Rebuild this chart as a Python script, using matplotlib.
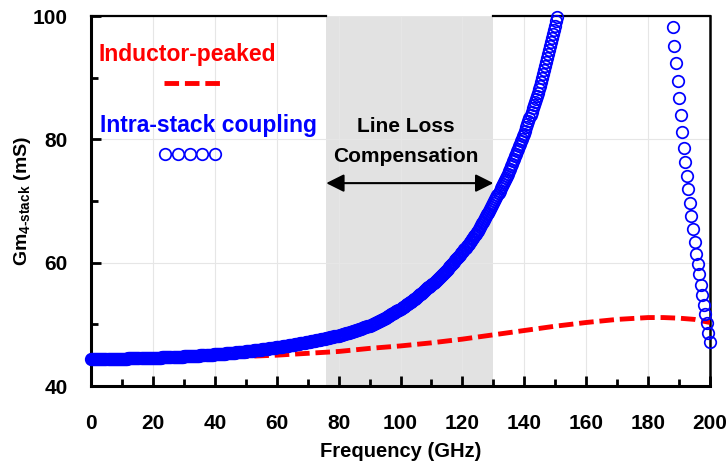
import matplotlib
matplotlib.use("Agg")
import matplotlib.pyplot as plt
import numpy as np

plt.rcParams['font.family'] = ['Liberation Sans', 'DejaVu Sans']
plt.rcParams['font.weight'] = 'bold'
plt.rcParams['axes.labelweight'] = 'bold'
plt.rcParams['mathtext.fontset'] = 'custom'
plt.rcParams['mathtext.rm'] = 'Liberation Sans:bold'
plt.rcParams['mathtext.bf'] = 'Liberation Sans:bold'

# intra-stack coupling, 0 .. 150.67 GHz in 1/3 GHz steps (one row = 5 GHz)
gm_coupling_low = [
    44.40, 44.40, 44.40, 44.40, 44.41, 44.41, 44.41, 44.41, 44.41, 44.41, 44.41, 44.41, 44.42, 44.42, 44.42,
    44.42, 44.42, 44.42, 44.43, 44.43, 44.43, 44.43, 44.43, 44.44, 44.44, 44.44, 44.44, 44.44, 44.45, 44.45,
    44.45, 44.45, 44.46, 44.46, 44.46, 44.46, 44.47, 44.47, 44.48, 44.48, 44.48, 44.49, 44.49, 44.49, 44.50,
    44.50, 44.50, 44.51, 44.51, 44.52, 44.52, 44.53, 44.53, 44.54, 44.54, 44.55, 44.55, 44.56, 44.56, 44.57,
    44.57, 44.58, 44.58, 44.59, 44.60, 44.60, 44.61, 44.62, 44.62, 44.63, 44.64, 44.64, 44.65, 44.66, 44.66,
    44.67, 44.68, 44.69, 44.69, 44.70, 44.71, 44.72, 44.73, 44.73, 44.74, 44.75, 44.76, 44.77, 44.77, 44.78,
    44.79, 44.80, 44.81, 44.82, 44.83, 44.84, 44.85, 44.86, 44.87, 44.88, 44.89, 44.90, 44.91, 44.92, 44.93,
    44.94, 44.95, 44.96, 44.98, 44.99, 45.00, 45.01, 45.02, 45.04, 45.05, 45.06, 45.07, 45.08, 45.10, 45.11,
    45.12, 45.13, 45.15, 45.16, 45.18, 45.19, 45.21, 45.22, 45.24, 45.25, 45.27, 45.28, 45.30, 45.31, 45.33,
    45.34, 45.36, 45.37, 45.39, 45.41, 45.43, 45.44, 45.46, 45.48, 45.50, 45.51, 45.53, 45.55, 45.57, 45.58,
    45.60, 45.62, 45.64, 45.66, 45.68, 45.70, 45.72, 45.74, 45.77, 45.79, 45.81, 45.83, 45.85, 45.87, 45.89,
    45.91, 45.93, 45.96, 45.98, 46.01, 46.03, 46.05, 46.08, 46.10, 46.13, 46.15, 46.17, 46.20, 46.22, 46.25,
    46.27, 46.30, 46.32, 46.35, 46.38, 46.40, 46.43, 46.46, 46.48, 46.51, 46.54, 46.56, 46.59, 46.62, 46.64,
    46.67, 46.70, 46.73, 46.76, 46.79, 46.82, 46.85, 46.88, 46.91, 46.94, 46.97, 47.00, 47.03, 47.06, 47.09,
    47.12, 47.15, 47.19, 47.22, 47.25, 47.29, 47.32, 47.35, 47.39, 47.42, 47.45, 47.49, 47.52, 47.55, 47.59,
    47.62, 47.66, 47.69, 47.73, 47.77, 47.81, 47.84, 47.88, 47.92, 47.96, 47.99, 48.03, 48.07, 48.11, 48.14,
    48.18, 48.23, 48.28, 48.32, 48.37, 48.42, 48.47, 48.52, 48.56, 48.61, 48.66, 48.71, 48.76, 48.80, 48.85,
    48.90, 48.96, 49.02, 49.08, 49.14, 49.20, 49.26, 49.32, 49.38, 49.44, 49.50, 49.56, 49.62, 49.68, 49.74,
    49.80, 49.88, 49.96, 50.04, 50.12, 50.20, 50.28, 50.36, 50.44, 50.52, 50.60, 50.68, 50.76, 50.84, 50.92,
    51.00, 51.10, 51.20, 51.30, 51.40, 51.50, 51.60, 51.70, 51.80, 51.90, 52.00, 52.10, 52.20, 52.30, 52.40,
    52.50, 52.62, 52.74, 52.86, 52.98, 53.10, 53.22, 53.34, 53.46, 53.58, 53.70, 53.82, 53.94, 54.06, 54.18,
    54.30, 54.44, 54.58, 54.72, 54.86, 55.00, 55.14, 55.28, 55.42, 55.56, 55.70, 55.84, 55.98, 56.12, 56.26,
    56.40, 56.56, 56.73, 56.89, 57.05, 57.22, 57.38, 57.54, 57.71, 57.87, 58.03, 58.20, 58.36, 58.52, 58.69,
    58.85, 59.04, 59.23, 59.42, 59.61, 59.80, 59.99, 60.18, 60.37, 60.56, 60.75, 60.94, 61.13, 61.32, 61.51,
    61.70, 61.93, 62.17, 62.40, 62.63, 62.87, 63.10, 63.33, 63.57, 63.80, 64.03, 64.27, 64.50, 64.73, 64.97,
    65.20, 65.49, 65.79, 66.08, 66.37, 66.67, 66.96, 67.25, 67.55, 67.84, 68.13, 68.43, 68.72, 69.01, 69.31,
    69.60, 69.95, 70.29, 70.64, 70.99, 71.33, 71.68, 72.03, 72.37, 72.72, 73.07, 73.41, 73.76, 74.11, 74.45,
    74.80, 75.21, 75.61, 76.02, 76.43, 76.83, 77.24, 77.65, 78.05, 78.46, 78.87, 79.27, 79.68, 80.09, 80.49,
    80.90, 81.41, 81.93, 82.44, 82.95, 83.47, 83.98, 84.49, 85.01, 85.52, 86.03, 86.55, 87.06, 87.57, 88.09,
    88.60, 89.25, 89.91, 90.56, 91.21, 91.87, 92.52, 93.17, 93.83, 94.48, 95.13, 95.79, 96.44, 97.09, 97.75,
    98.40, 99.13, 99.87,
]
freq_low = np.arange(len(gm_coupling_low)) / 3.0

# after the resonance, 188 .. 200 GHz in 0.5 GHz steps
gm_coupling_high = [
    98.17, 95.18, 92.33, 89.46, 86.65, 83.95, 81.24, 78.60, 76.28, 74.06,
    71.90, 69.73, 67.62, 65.46, 63.40, 61.41, 59.79, 58.12, 56.38, 54.76,
    53.14, 51.68, 50.17, 48.65, 47.19,
]
freq_high = 188 + 0.5 * np.arange(len(gm_coupling_high))

# inductor-peaked reference
freq_ind = [0, 10, 20, 30, 40, 50, 60, 70, 80, 90, 100, 110, 120, 130, 140,
            150, 160, 170, 180, 185, 190, 195, 200]
gm_ind = [44.4, 44.4, 44.5, 44.6, 44.7, 44.8, 45.0, 45.3, 45.6, 46.1, 46.5, 47.0,
          47.6, 48.3, 49.0, 49.7, 50.3, 50.8, 51.1, 51.1, 51.0, 50.8, 50.3]

shade_lo, shade_hi = 76, 130
x_lim = (0, 200)
y_lim = (40, 100)

BLUE = '#0000ff'
RED = '#ff0000'

fig = plt.figure(figsize=(7.28, 4.68), dpi=100)
ax = fig.add_axes([0.125, 0.1752, 0.8503, 0.7906])

ax.axvspan(shade_lo, shade_hi, color='#e2e2e2', zorder=0.2, lw=0)
ax.grid(True, color='#e6e6e6', lw=0.8)
ax.set_axisbelow(True)

ax.plot(freq_ind, gm_ind, color=RED, lw=3.5, dashes=(3.0, 1.2), zorder=3)
ax.plot(freq_low, gm_coupling_low, ls='none', marker='o', ms=8.3, mfc='none',
        mec=BLUE, mew=1.25, zorder=4, clip_on=False)
ax.plot(freq_high, gm_coupling_high, ls='none', marker='o', ms=8.3, mfc='none',
        mec=BLUE, mew=1.25, zorder=4, clip_on=False)

# hand-made legend
ax.text(31.2, 93.7, 'Inductor-peaked', color=RED, fontsize=16.5, ha='center', va='center')
ax.plot([23.6, 41.6], [89.2, 89.2], color=RED, lw=3.5, dashes=(3.0, 1.2))
ax.text(38.1, 82.3, 'Intra-stack coupling', color=BLUE, fontsize=16.5, ha='center', va='center')
ax.plot([24, 28, 32, 36, 40], [77.6] * 5, ls='none', marker='o', ms=8.3, mfc='none',
        mec=BLUE, mew=1.25)

# shaded band annotation
ax.text(101.7, 82.1, 'Line Loss', fontsize=15, ha='center', va='center', zorder=5)
ax.text(101.7, 77.2, 'Compensation', fontsize=15, ha='center', va='center', zorder=5)
ax.annotate('', xy=(shade_lo, 72.9), xytext=(shade_hi, 72.9),
            arrowprops=dict(arrowstyle='<|-|>,head_length=0.4,head_width=0.2',
                            color='black', lw=1.5, mutation_scale=27,
                            shrinkA=0, shrinkB=0), zorder=5)

ax.set_xlim(*x_lim)
ax.set_ylim(*y_lim)
ax.set_xticks(np.arange(0, 201, 20))
ax.set_xticks(np.arange(0, 201, 10), minor=True)
ax.set_yticks(np.arange(40, 101, 20))
ax.set_yticks(np.arange(40, 101, 10), minor=True)
ax.tick_params(which='both', direction='in', width=2, labelsize=15, pad=17,
               top=False, right=False)
ax.tick_params(axis='x', pad=20)
ax.tick_params(which='major', length=7)
ax.tick_params(which='minor', length=5)

for side in ('left', 'bottom'):
    ax.spines[side].set_linewidth(2.2)
ax.spines['right'].set_linewidth(1.8)
ax.spines['top'].set_visible(False)
# top border is hidden behind the shaded band
ax.axhline(y_lim[1], 0, shade_lo / x_lim[1], color='black', lw=1.6, clip_on=False)
ax.axhline(y_lim[1], shade_hi / x_lim[1], 1, color='black', lw=1.6, clip_on=False)

ax.set_xlabel('Frequency (GHz)', fontsize=14.5)
ax.set_ylabel(r'Gm$_{\mathrm{4\text{-}stack}}$ (mS)', fontsize=14)
ax.xaxis.set_label_coords(0.5, -0.15)
ax.yaxis.set_label_coords(-0.094, 0.5)

fig.savefig('out.png', dpi=100)
